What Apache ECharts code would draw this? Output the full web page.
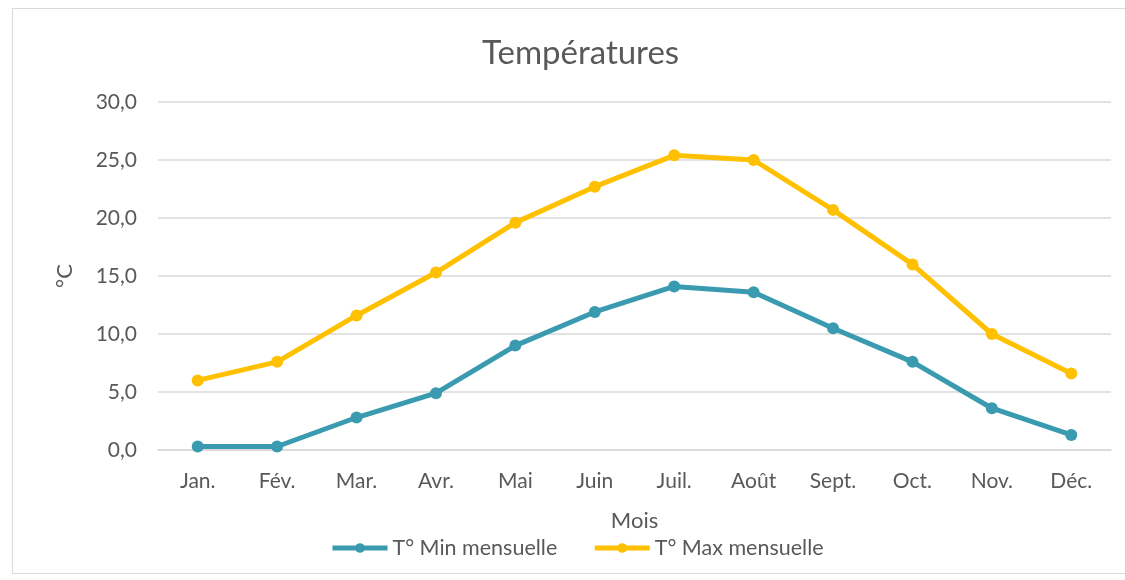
<!DOCTYPE html>
<html>
<head>
<meta charset="utf-8">
<script src="https://cdn.jsdelivr.net/npm/echarts@6/dist/echarts.min.js"></script>
<style>
  html, body { margin: 0; padding: 0; background: #ffffff; }
  #frame { position: absolute; left: 12px; top: 8px; width: 1130px; height: 566px; border: 1px solid #d9d9d9; box-sizing: border-box; }
  #chart { position: absolute; left: 0; top: 0; width: 1125px; height: 580px; }
</style>
</head>
<body>
<div id="frame"></div>
<div id="chart"></div>
<script>
// Mois de l'année
const months = ['Jan.', 'Fév.', 'Mar.', 'Avr.', 'Mai', 'Juin', 'Juil.', 'Août', 'Sept.', 'Oct.', 'Nov.', 'Déc.'];
// Températures moyennes mensuelles (°C)
const tMin = [0.3, 0.3, 2.8, 4.9, 9.0, 11.9, 14.1, 13.6, 10.5, 7.6, 3.6, 1.3];
const tMax = [6.0, 7.6, 11.6, 15.3, 19.6, 22.7, 25.4, 25.0, 20.7, 16.0, 10.0, 6.6];
const seriesNames = ['T° Min mensuelle', 'T° Max mensuelle'];

const textColor = '#595959';
const font = 'Lato, "Open Sans", sans-serif';
const minColor = '#3a9bb0';
const maxColor = '#ffc000';

const chart = echarts.init(document.getElementById('chart'));
chart.setOption({
  animation: false,
  textStyle: { fontFamily: font, color: textColor },
  title: {
    text: 'Températures',
    left: 477,
    top: 32,
    textStyle: { fontFamily: font, fontSize: 33, fontWeight: 'normal', color: textColor }
  },
  legend: {
    left: 330,
    bottom: 21,
    padding: 0,
    itemGap: 35,
    itemWidth: 55,
    itemHeight: 12,
    lineStyle: { width: 5 },
    textStyle: { fontFamily: font, fontSize: 21.5, color: textColor },
    data: seriesNames
  },
  grid: { left: 158, right: 14, top: 102, bottom: 130, containLabel: false },
  xAxis: {
    type: 'category',
    data: months,
    boundaryGap: true,
    name: 'Mois',
    nameLocation: 'middle',
    nameGap: 60,
    nameTextStyle: { fontFamily: font, fontSize: 22, color: textColor },
    axisLine: { show: true, lineStyle: { color: '#d9d9d9', width: 1.5 } },
    axisTick: { show: false },
    axisLabel: { fontFamily: font, fontSize: 21, color: textColor, margin: 21 }
  },
  yAxis: {
    type: 'value',
    min: 0,
    max: 30,
    interval: 5,
    name: '°C',
    nameLocation: 'middle',
    nameGap: 82,
    nameRotate: 90,
    nameTextStyle: { fontFamily: font, fontSize: 22, color: textColor },
    axisLine: { show: false },
    axisTick: { show: false },
    splitLine: { lineStyle: { color: '#d9d9d9', width: 1.5 } },
    axisLabel: {
      fontFamily: font, fontSize: 21, color: textColor, margin: 21,
      formatter: v => v.toFixed(1).replace('.', ',')
    }
  },
  series: [
    {
      name: seriesNames[0],
      type: 'line',
      data: tMin,
      symbol: 'circle',
      symbolSize: 12,
      lineStyle: { width: 5, color: minColor },
      itemStyle: { color: minColor }
    },
    {
      name: seriesNames[1],
      type: 'line',
      data: tMax,
      symbol: 'circle',
      symbolSize: 12,
      lineStyle: { width: 5, color: maxColor },
      itemStyle: { color: maxColor }
    }
  ]
});
</script>
</body>
</html>
